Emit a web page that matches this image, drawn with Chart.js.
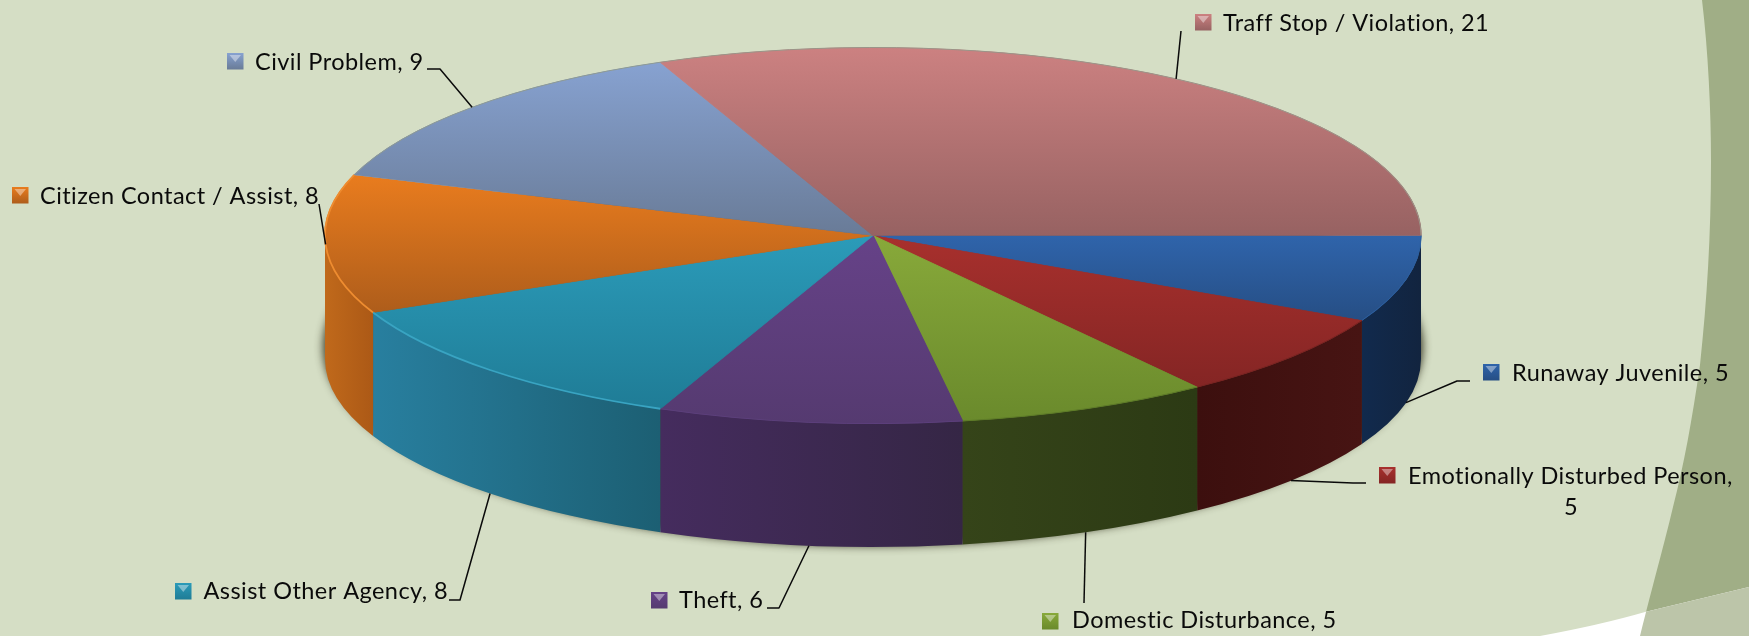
<!DOCTYPE html>
<html><head><meta charset="utf-8">
<style>html,body{margin:0;padding:0;background:#d5dec5;overflow:hidden}canvas{display:block}</style>
<script src="https://cdn.jsdelivr.net/npm/chart.js@4"></script>
</head><body><canvas id="c" width="1749" height="636"></canvas>
<script>
const categories = ['Runaway Juvenile','Emotionally Disturbed Person','Domestic Disturbance','Theft','Assist Other Agency','Citizen Contact / Assist','Civil Problem','Traff Stop / Violation'];
const values = [5,5,5,6,8,8,9,21];
const topLight = ['#2f64ab','#a8302d','#88a93a','#664288','#2b9bb9','#e97c1e','#87a2d1','#cc8181'];
const topDark  = ['#264e84','#842524','#6a8a2c','#553a70','#1f7c96','#ae5d1b','#697b97','#976262'];
const wallLeft = ['#112a4d','#3c0f0e','#354419','#452c5e','#287f9f','#c0691b','#000000','#000000'];
const wallRight= ['#12243f','#471413','#2c3a14','#352645','#1c5f73','#ac5916','#000000','#000000'];
const rimColors= ['#2c5f9f','#7a2321','#5e7c28','#5c3f7c','#39a4c2','#ee8c30','#8e9a94','#9a9488'];

const layout = { cx:873, cy:235.5, rx:548, ry:188, depth:123.5 };
const font = '23.5px Lato';
const labelLayout = [
 {mx:1483,my:364,tx:1512,by:381, wall:true, line:[[1457,381],[1470,381]]},
 {mx:1379,my:467,tx:1408,by:484, wall:true, line:[[1353,483],[1366,483]], wrap:{text:'5',cx:1571,by:515}},
 {mx:1042,my:613,tx:1072,by:628, wall:true, line:[[1084,603]]},
 {mx:651,my:592,tx:679,by:608, wall:true, line:[[779,608],[767,608]]},
 {mx:175,my:583,tx:203.5,by:599, wall:true, line:[[460,600],[449,600]]},
 {mx:12,my:187,tx:40,by:204, wall:false, line:[[319,204]]},
 {mx:227,my:53,tx:255,by:70, wall:false, line:[[440,69],[427,69]]},
 {mx:1195,my:14,tx:1223,by:31, wall:false, line:[[1181,31]]}
];

function swoosh(ctx){
  ctx.beginPath();ctx.moveTo(1702,0);
  ctx.bezierCurveTo(1708,50,1711,110,1711,162);
  ctx.bezierCurveTo(1711,235,1707,300,1700,365);
  ctx.bezierCurveTo(1692,420,1684,465,1673,507);
  ctx.bezierCurveTo(1664,545,1654,580,1640,636);
  ctx.lineTo(1749,636);ctx.lineTo(1749,0);ctx.closePath();
}
function wedge(ctx){
  ctx.beginPath();ctx.moveTo(1540,636);
  ctx.quadraticCurveTo(1600,625,1645,612);
  ctx.lineTo(1749,587);ctx.lineTo(1749,636);ctx.closePath();
}
const scene = {
  id:'scene',
  beforeDraw(chart){
    const ctx=chart.ctx;ctx.save();
    ctx.fillStyle='#d5dec5';ctx.fillRect(0,0,1749,636);
    swoosh(ctx);ctx.fillStyle='#a0ae86';ctx.fill();
    wedge(ctx);ctx.fillStyle='#ffffff';ctx.fill();
    ctx.save();swoosh(ctx);ctx.clip();wedge(ctx);ctx.fillStyle='#bcc5a9';ctx.fill();ctx.restore();
    ctx.restore();
  },
  beforeDatasetsDraw(chart){
    const ctx=chart.ctx,{cx,cy,rx,ry,depth}=layout,arcs=chart.getDatasetMeta(0).data;
    ctx.save();
    ctx.shadowColor='rgba(45,45,25,0.9)';ctx.shadowBlur=9;ctx.shadowOffsetX=4000;ctx.shadowOffsetY=0;
    ctx.fillStyle='#000';
    ctx.beginPath();ctx.ellipse(cx-4000,cy+depth-12,rx+2,ry+11,0,0,Math.PI*2);ctx.fill();
    ctx.restore();
    arcs.forEach((arc,i)=>{
      const a0=arc.startAngle,a1=Math.min(arc.endAngle,Math.PI);
      if(a0>=Math.PI)return;
      const x0=cx+rx*Math.cos(a0),x1=cx+rx*Math.cos(a1);
      const g=ctx.createLinearGradient(Math.min(x0,x1),0,Math.max(x0,x1),0);
      g.addColorStop(0,wallLeft[i]);g.addColorStop(1,wallRight[i]);
      ctx.fillStyle=g;
      ctx.beginPath();ctx.ellipse(cx,cy,rx,ry,0,a0,a1);
      ctx.ellipse(cx,cy+depth,rx,ry,0,a1,a0,true);ctx.closePath();ctx.fill();
    });
    const a=arcs[0];
    ctx.save();
    ctx.translate(cx,cy);ctx.scale(rx/a.outerRadius,ry/a.outerRadius);ctx.translate(-a.x,-a.y);
  },
  afterDatasetsDraw(chart){
    const ctx=chart.ctx,{cx,cy,rx,ry,depth}=layout,arcs=chart.getDatasetMeta(0).data;
    ctx.restore();
    ctx.save();
    arcs.forEach((arc,i)=>{
      ctx.strokeStyle=rimColors[i];ctx.lineWidth=i===4||i===5?1.8:1;
      ctx.beginPath();ctx.ellipse(cx,cy,rx,ry,0,arc.startAngle,arc.endAngle);ctx.stroke();
    });
    ctx.strokeStyle='#0a0a0a';ctx.lineWidth=1.5;ctx.lineJoin='round';
    arcs.forEach((arc,i)=>{
      const m=(arc.startAngle+arc.endAngle)/2,L=labelLayout[i];
      ctx.beginPath();
      ctx.moveTo(cx+rx*Math.cos(m),cy+ry*Math.sin(m)+(L.wall?depth:0));
      L.line.forEach(p=>ctx.lineTo(p[0],p[1]));ctx.stroke();
    });
    ctx.font=font;ctx.textBaseline='alphabetic';ctx.letterSpacing='0.45px';
    categories.forEach((c,i)=>{
      const L=labelLayout[i],s=16.5;
      const g=ctx.createLinearGradient(0,L.my,0,L.my+s);
      g.addColorStop(0,topLight[i]);g.addColorStop(1,topDark[i]);
      ctx.fillStyle=g;ctx.fillRect(L.mx,L.my,s,s);
      ctx.fillStyle='rgba(255,255,255,0.4)';
      ctx.beginPath();ctx.moveTo(L.mx+2.5,L.my+2);ctx.lineTo(L.mx+s-2.5,L.my+2);ctx.lineTo(L.mx+s/2,L.my+s*0.55);ctx.closePath();ctx.fill();
      ctx.fillStyle='#0a0a0a';ctx.textAlign='left';
      if(L.wrap){
        ctx.fillText(c+',',L.tx,L.by);
        ctx.textAlign='center';ctx.fillText(String(values[i]),L.wrap.cx,L.wrap.by);
      } else ctx.fillText(c+', '+values[i],L.tx,L.by);
    });
    ctx.restore();
  }
};
const total=values.reduce((a,b)=>a+b,0);
function sliceGradient(c){
  if(c.type!=='data')return '#000';
  const chart=c.chart,R=Math.min(chart.width,chart.height)/2,Y=chart.height/2;
  let s=0;for(let k=0;k<c.dataIndex;k++)s+=values[k];
  const a0=s/total*2*Math.PI,a1=(s+values[c.dataIndex])/total*2*Math.PI;
  let ys=[0,Math.sin(a0),Math.sin(a1)];
  [Math.PI/2,Math.PI*1.5].forEach(q=>{if(a0<q&&a1>q)ys.push(Math.sin(q));});
  const g=chart.ctx.createLinearGradient(0,Y+R*Math.min(...ys),0,Y+R*Math.max(...ys));
  g.addColorStop(0,topLight[c.dataIndex]);g.addColorStop(1,topDark[c.dataIndex]);
  return g;
}
new Chart(document.getElementById('c'),{
  type:'pie',
  data:{labels:categories,datasets:[{data:values,backgroundColor:sliceGradient,borderColor:sliceGradient,borderWidth:0.8,clip:false}]},
  options:{responsive:false,animation:false,rotation:90,layout:{padding:0},
    plugins:{legend:{display:false},tooltip:{enabled:false}},events:[]},
  plugins:[scene]
});
</script></body></html>
